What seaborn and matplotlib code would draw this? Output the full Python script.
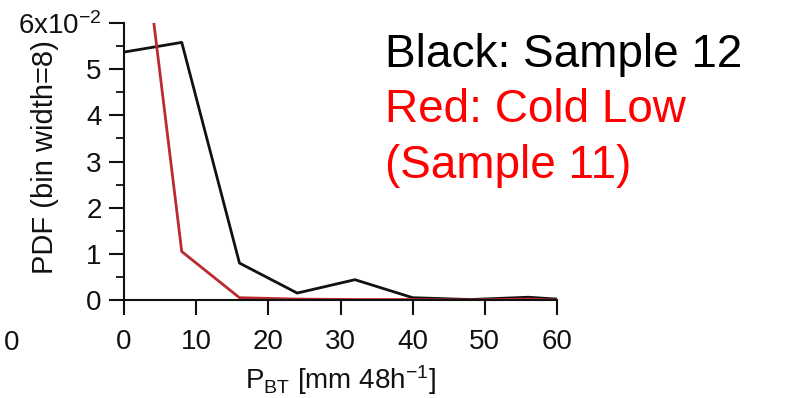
import matplotlib
matplotlib.use("Agg")
import matplotlib.pyplot as plt
import seaborn as sns
import pandas as pd
from matplotlib.ticker import MultipleLocator, FixedLocator, FixedFormatter

# data (PDF values in units of 1e-2)
bins = [0, 8, 16, 24, 32, 40, 48, 56, 60]
black_pdf = [5.37, 5.58, 0.80, 0.15, 0.44, 0.05, 0.01, 0.06, 0.02]
red_pdf = [11.3, 1.05, 0.05, 0.02, 0.01, 0.01, 0.0, 0.02, 0.0]
series_names = ["Sample 12", "Cold Low (Sample 11)"]
x_ticks = [0, 10, 20, 30, 40, 50, 60]
y_ticks = [0, 1, 2, 3, 4, 5, 6]
y_tick_labels = ["0", "1", "2", "3", "4", "5", r"6x10$^{-2}$"]

sns.set_style("white")
plt.rcParams['font.family'] = ['Liberation Sans', 'DejaVu Sans']
plt.rcParams['mathtext.fontset'] = 'custom'
plt.rcParams['mathtext.rm'] = 'Liberation Sans'
plt.rcParams['mathtext.it'] = 'Liberation Sans'
plt.rcParams['text.color'] = '#111111'
plt.rcParams['axes.labelcolor'] = '#111111'
plt.rcParams['xtick.color'] = '#111111'
plt.rcParams['ytick.color'] = '#111111'

df = pd.concat([
    pd.DataFrame({"x": bins, "pdf": black_pdf, "series": series_names[0]}),
    pd.DataFrame({"x": bins, "pdf": red_pdf, "series": series_names[1]}),
])

fig = plt.figure(figsize=(7.86, 3.98), dpi=100)
ax = fig.add_axes([124/786, 1-300/398, (557-124)/786, (300-23)/398])
sns.lineplot(data=df, x="x", y="pdf", hue="series",
             palette={series_names[0]: "#111111", series_names[1]: "#bb2a2f"},
             linewidth=2.0, legend=False, ax=ax, sort=False)

ax.set_xlim(0, 60)
ax.set_ylim(0, 6)
for s in ["top", "right"]:
    ax.spines[s].set_visible(False)
for s in ["left", "bottom"]:
    ax.spines[s].set_color("#111111")
    ax.spines[s].set_linewidth(1.5)

ax.xaxis.set_major_locator(FixedLocator(x_ticks))
ax.yaxis.set_major_locator(FixedLocator(y_ticks))
ax.yaxis.set_major_formatter(FixedFormatter(y_tick_labels))
ax.yaxis.set_minor_locator(MultipleLocator(0.5))
ax.tick_params(axis="x", which="major", direction="out", length=11, width=1.5,
               labelsize=20, pad=10, bottom=True)
ax.tick_params(axis="y", which="major", direction="out", length=11, width=1.5,
               labelsize=20, pad=5, left=True)
ax.tick_params(axis="y", which="minor", direction="out", length=6, width=1.3,
               left=True)

ax.set_xlabel(r"P$_{\rm BT}$ [mm 48h$^{-1}$]", fontsize=20, labelpad=6)
ax.set_ylabel("PDF (bin width=8)", fontsize=21)
ax.yaxis.set_label_coords((45 - 124) / 433, (300 - 157) / 277)
ax.yaxis.label.set_va("center")

fig.text(385/786, 1-67/398, "Black: Sample 12", fontsize=33, color="black",
         ha="left", va="baseline")
fig.text(385/786, 1-122/398, "Red: Cold Low", fontsize=33, color="#ff0000",
         ha="left", va="baseline")
fig.text(385/786, 1-178/398, "(Sample 11)", fontsize=33, color="#ff0000",
         ha="left", va="baseline")

# fragment of neighbouring panel at left edge
fig.text(12/786, 1-343/398, "0", fontsize=20, ha="center", va="center")

fig.savefig("out.png", dpi=100)
